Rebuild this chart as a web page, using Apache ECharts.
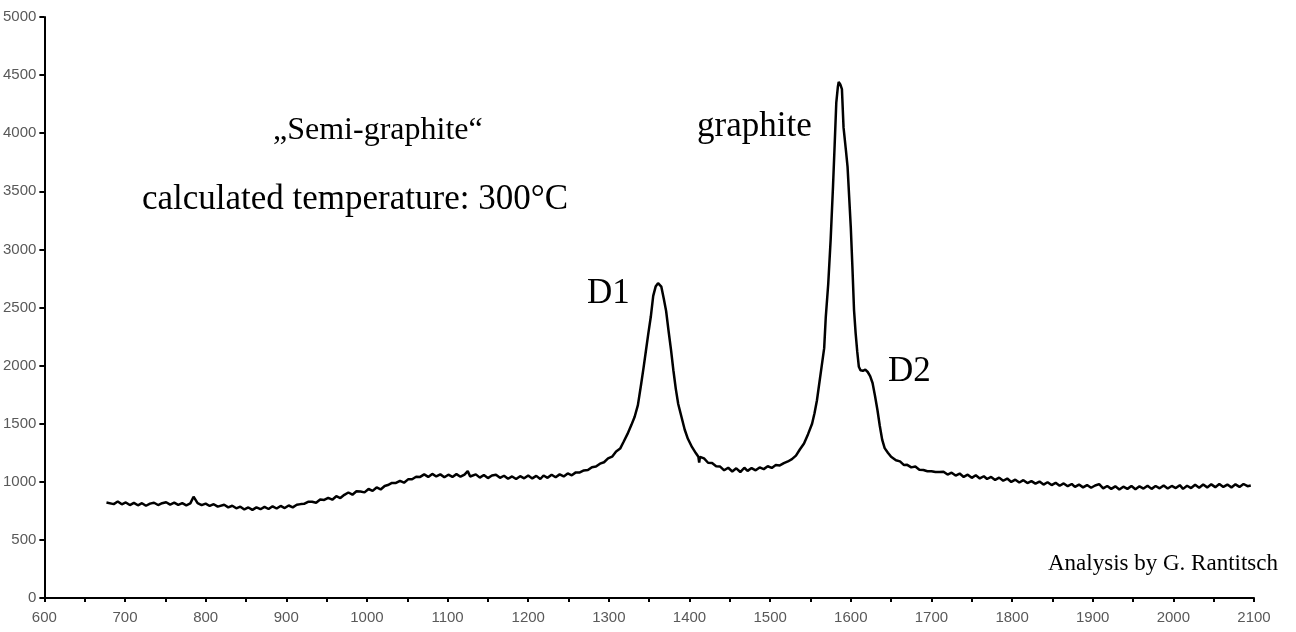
<!DOCTYPE html>
<html>
<head>
<meta charset="utf-8">
<script src="https://cdn.jsdelivr.net/npm/echarts@6/dist/echarts.min.js"></script>
<style>
html,body{margin:0;padding:0;background:#fff;}
#chart{width:1296px;height:632px;}
</style>
</head>
<body>
<div id="chart"></div>
<script>
// Raman shift (cm-1)
var ramanShift = [
677,686,691,696,701,706,711,716,721,726,731,736,741,746,751,756,761,766,771,776,781,785,790,795,800,805,810,815,
823,828,833,838,843,848,853,858,863,868,873,878,883,888,893,898,903,908,913,918,
922,927,932,937,942,947,952,957,962,967,972,977,982,987,992,997,1002,1007,1012,1017,
1022,1026,1031,1036,1041,1046,1051,1056,1061,1066,1071,1076,1081,1086,1091,1096,1101,1106,1111,1116,
1121,1125,1128,1130,1135,1140,1145,1150,1155,1160,1165,1170,1175,1180,1185,1190,1195,1200,1205,1210,1215,
1219,1224,1229,1234,1239,1244,1249,1254,1259,1264,1269,1274,1279,1284,1289,1294,1299,1304,1309,1314,
1318,1323,1328,1332,1336,1340,1343,1346,1349,1352,1355,1358,1361,1363,1365,1368,1371,1374,1377,1380,1383,1386,1390,1394,1398,1403,1408,1411,1412,1413,
1418,1423,1428,1433,1438,1443,1448,1453,1458,1463,1468,1472,1477,1482,1487,1492,1497,1502,1507,1512,
1517,1522,1527,1532,1537,1542,1547,1552,1555,1558,1561,1564,1567,1569,1572,1575,1578,1580,1582,1584,1585,1587,1589,1591,1594,1596,1598,1600,1602,1604,1606,1608,1610,1612,1615,
1618,1621,1624,1627,1630,1633,1636,1639,1642,1646,1650,1653,1656,1661,1666,1670,1675,1680,1685,1690,1695,1700,1705,1710,
1715,1720,1725,1730,1735,1740,1745,1750,1755,1760,1765,1769,1774,1779,1784,1789,1794,1799,1804,1809,
1814,1819,1824,1829,1834,1839,1844,1849,1854,1859,1864,1869,1874,1878,1883,1888,1893,1898,1903,1908,
1913,1918,1923,1928,1933,1938,1943,1948,1953,1958,1963,1968,1973,1978,1983,1988,1993,1998,2003,2008,
2012,2017,2022,2027,2032,2037,2042,2047,2052,2057,2062,2067,2072,2077,2082,2087,2092,2096
];
// Intensity (counts)
var intensity = [
822,808,830,806,822,800,819,798,816,794,812,820,800,816,824,804,820,801,816,798,814,872,816,799,812,792,807,786,
802,780,794,772,786,762,779,758,780,764,784,766,789,770,792,774,796,780,802,808,
810,828,828,820,848,844,862,846,876,860,888,908,889,918,916,909,938,922,951,934,
964,972,990,990,1008,992,1021,1022,1044,1042,1064,1042,1068,1046,1064,1039,1061,1042,1066,1044,
1062,1092,1046,1039,1064,1036,1058,1032,1054,1060,1034,1052,1026,1046,1024,1048,1030,1054,1029,1051,1024,
1054,1034,1061,1039,1064,1046,1072,1056,1081,1081,1098,1101,1126,1131,1156,1168,1201,1216,1261,1286,
1340,1410,1490,1560,1660,1840,1980,2130,2280,2420,2600,2680,2710,2700,2680,2580,2470,2300,2140,1960,1800,1670,1560,1450,1370,1300,1245,1215,1165,1215,
1201,1164,1161,1134,1131,1099,1121,1089,1116,1084,1121,1094,1118,1099,1124,1109,1134,1119,1144,1141,
1160,1175,1195,1225,1280,1330,1410,1500,1590,1700,1850,2000,2150,2420,2700,3080,3550,3900,4260,4400,4440,4420,4380,4050,3850,3710,3450,3190,2850,2480,2280,2120,1990,1960,1955,
1965,1945,1910,1850,1740,1620,1480,1360,1290,1250,1215,1200,1185,1176,1144,1146,1124,1131,1104,1101,1091,1091,1084,1084,
1086,1062,1078,1054,1071,1042,1061,1034,1056,1029,1048,1024,1042,1016,1036,1009,1028,999,1018,994,
1014,989,1006,984,1002,976,996,972,991,966,986,962,981,956,976,952,972,949,968,980,
944,964,939,961,934,958,939,964,936,961,942,966,939,964,944,968,942,964,946,971,
939,966,946,974,949,976,952,978,954,981,956,976,952,978,956,981,962,968
];
var xTickMin = 600, xTickMax = 2100, xTickStep = 100;
var yTickMin = 0, yTickMax = 5000, yTickStep = 500;

var annotations = [
  {text: '\u201eSemi-graphite\u201c', x: 273, y: 131, size: 32, align: 'left'},
  {text: 'calculated temperature: 300\u00b0C', x: 142, y: 200, size: 35, align: 'left'},
  {text: 'graphite', x: 697, y: 127, size: 35, align: 'left'},
  {text: 'D1', x: 587, y: 294, size: 35, align: 'left'},
  {text: 'D2', x: 888, y: 372, size: 35, align: 'left'},
  {text: 'Analysis by G. Rantitsch', x: 1278, y: 564, size: 23, align: 'right'}
];

var seriesData = ramanShift.map(function (x, i) { return [x, intensity[i]]; });

var chart = echarts.init(document.getElementById('chart'), null, {renderer: 'canvas'});
var labelStyle = {color: '#595959', fontFamily: 'Liberation Sans, Arial, sans-serif', fontSize: 15,
                  formatter: function (v) { return String(v); }};
chart.setOption({
  animation: false,
  backgroundColor: '#ffffff',
  grid: {left: 42, right: 42, top: 17, bottom: 34, containLabel: false},
  xAxis: {
    type: 'value', min: xTickMin, max: xTickMax, interval: xTickStep,
    axisLine: {show: true, onZero: false, lineStyle: {color: '#000', width: 2}},
    axisTick: {show: true, length: 4, lineStyle: {color: '#000', width: 2}},
    minorTick: {show: true, splitNumber: 2, length: 4, lineStyle: {color: '#000', width: 2}},
    splitLine: {show: false},
    axisLabel: Object.assign({margin: 12}, labelStyle)
  },
  yAxis: {
    type: 'value', min: yTickMin, max: yTickMax, interval: yTickStep,
    axisLine: {show: true, lineStyle: {color: '#000', width: 2}},
    axisTick: {show: true, length: 5, lineStyle: {color: '#000', width: 2}},
    splitLine: {show: false},
    axisLabel: Object.assign({margin: 8}, labelStyle)
  },
  series: [{
    type: 'line',
    data: seriesData,
    showSymbol: false,
    symbol: 'none',
    lineStyle: {color: '#000', width: 2.5},
    z: 3
  }],
  graphic: annotations.map(function (a) {
    return {
      type: 'text', x: a.x, y: a.y, z: 10,
      style: {text: a.text, fill: '#000', font: a.size + 'px "Liberation Serif", "Times New Roman", serif',
              align: a.align, verticalAlign: 'middle'}
    };
  })
});
</script>
</body>
</html>
